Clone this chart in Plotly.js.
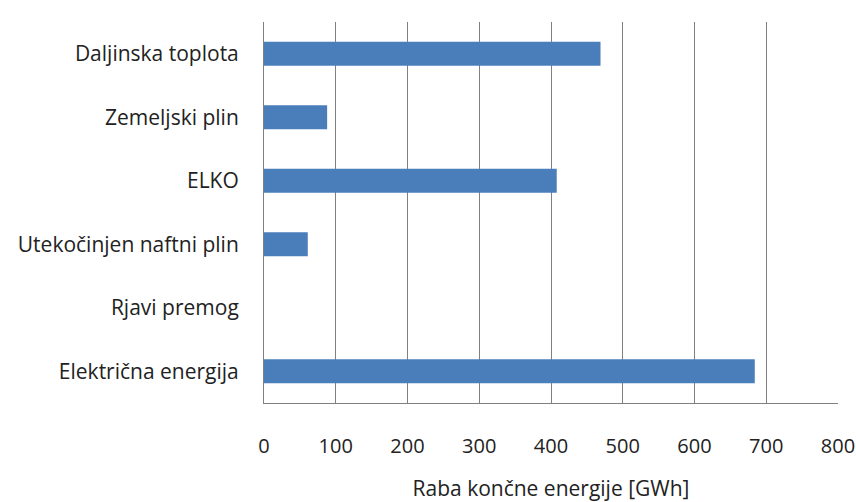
<!DOCTYPE html>
<html>
<head>
<meta charset="utf-8">
<script src="https://cdn.plot.ly/plotly-3.0.1.min.js"></script>
<style>html,body{margin:0;padding:0;background:#fff;}#chart{width:856px;height:502px;}</style>
</head>
<body>
<div id="chart"></div>
<script>
// Categories listed bottom to top
const categories = ["Električna energija", "Rjavi premog", "Utekočinjen naftni plin", "ELKO", "Zemeljski plin", "Daljinska toplota"];
const values = [684, 0, 61, 408, 88, 469];
const xTicks = [0, 100, 200, 300, 400, 500, 600, 700, 800];
const xTitle = "Raba končne energije [GWh]";

const fontFamily = "'Open Sans', Lato, sans-serif";
const txtColor = "#222222";

Plotly.newPlot("chart", [{
  type: "bar",
  orientation: "h",
  y: categories,
  x: values,
  marker: {color: "#4a7ebb", line: {width: 0}},
  hoverinfo: "x+y"
}], {
  width: 856,
  height: 502,
  margin: {l: 264, r: 18, t: 22, b: 99},
  paper_bgcolor: "#ffffff",
  plot_bgcolor: "#ffffff",
  bargap: 0.62,
  showlegend: false,
  font: {family: fontFamily, size: 21, color: txtColor},
  xaxis: {
    range: [0, 800],
    tickvals: xTicks,
    ticktext: xTicks.map(String),
    showgrid: true,
    gridcolor: "#808080",
    gridwidth: 1,
    zeroline: false,
    showline: true,
    linecolor: "#808080",
    linewidth: 1,
    mirror: false,
    ticks: "",
    ticklabelstandoff: 25,
    tickfont: {family: fontFamily, size: 20, color: txtColor},
    title: {text: xTitle, font: {family: fontFamily, size: 21, color: txtColor}, standoff: 23},
    fixedrange: true
  },
  yaxis: {
    type: "category",
    categoryorder: "array",
    categoryarray: categories,
    range: [-0.5, 5.5],
    showgrid: false,
    zeroline: false,
    showline: true,
    linecolor: "#808080",
    linewidth: 1,
    ticks: "",
    ticklabelstandoff: 20,
    tickfont: {family: fontFamily, size: 21, color: txtColor},
    fixedrange: true
  }
}, {displayModeBar: false, staticPlot: true});
</script>
</body>
</html>
